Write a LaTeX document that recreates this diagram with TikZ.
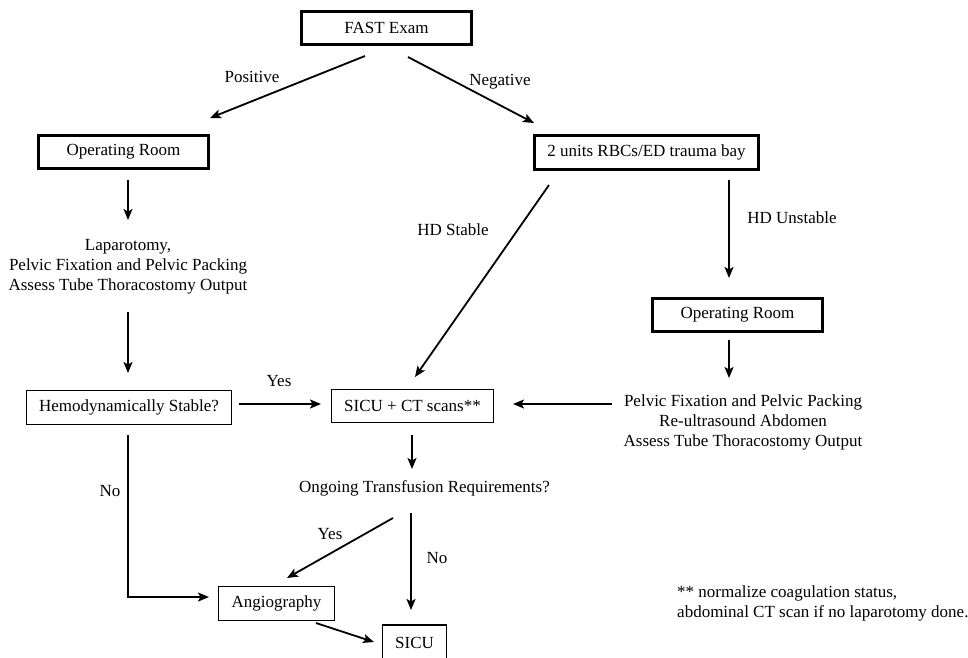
\documentclass[tikz,border=0pt]{standalone}
\usepackage{fontspec}
\setmainfont{Liberation Serif}
\usetikzlibrary{arrows.meta}
\begin{document}
\begin{tikzpicture}[x=1pt,y=-1pt,
  every node/.style={font=\fontsize{17}{20}\selectfont, inner sep=0pt},
  thickbox/.style={draw, line width=2.8pt},
  thinbox/.style={draw, line width=1.3pt},
  conn/.style={line width=1.8pt, -{Stealth[length=11pt,width=9pt,inset=2.5pt]}},
  lbl/.style={}]
\clip (0,0) rectangle (968,657);
\fill[white] (0,0) rectangle (968,657);
% boxes
\node[thickbox, minimum width=170pt, minimum height=33pt] (fast) at (386.5,28) {FAST Exam};
\node[thickbox, minimum width=170pt, minimum height=33pt] (orl) at (123.5,152) {Operating Room};
\node[thickbox, minimum width=224pt, minimum height=34pt] (rbc) at (646.5,152.5) {2 units RBCs/ED trauma bay};
\node[thickbox, minimum width=170pt, minimum height=33pt] (orr) at (737.5,315) {Operating Room};
\node[thinbox, minimum width=205pt, minimum height=34pt] (hemo) at (129,407.5) {Hemodynamically Stable?};
\node[thinbox, minimum width=162pt, minimum height=33pt] (sicuct) at (412.5,406) {SICU + CT scans**};
\node[thinbox, minimum width=116pt, minimum height=34pt] (angio) at (276.5,603.5) {Angiography};
\node[thinbox, minimum width=64pt, minimum height=36pt] (sicu) at (414.5,643) {SICU};
% plain texts
\node[align=center] (lap) at (128,267) {Laparotomy,\\Pelvic Fixation and Pelvic Packing\\Assess Tube Thoracostomy Output};
\node[align=center] (pelv) at (743,422) {Pelvic Fixation and Pelvic Packing\\Re-ultrasound Abdomen\\Assess Tube Thoracostomy Output};
\node (ongo) at (424.5,488) {Ongoing Transfusion Requirements?};
\node[align=left, anchor=west] (note) at (677,603) {** normalize coagulation status,\\abdominal CT scan if no laparotomy done.};
% labels
\node (lpos) at (252,77) {Positive};
\node (lneg) at (500,82) {Negative};
\node (lhds) at (453,230) {HD Stable};
\node (lhdu) at (792,218) {HD Unstable};
\node (lyes1) at (279,381) {Yes};
\node (lno1) at (110,491) {No};
\node (lyes2) at (330,534) {Yes};
\node (lno2) at (437,558) {No};
% connector end points
\coordinate (p1a) at (365,56);  \coordinate (p1b) at (210,118);
\coordinate (p2a) at (408,57);  \coordinate (p2b) at (534,123);
\coordinate (p3a) at (128,180); \coordinate (p3b) at (128,220);
\coordinate (p4a) at (128,312); \coordinate (p4b) at (128,373);
\coordinate (p5a) at (239,404); \coordinate (p5b) at (321,404);
\coordinate (p6a) at (549,185); \coordinate (p6b) at (415,377);
\coordinate (p7a) at (729,180); \coordinate (p7b) at (729,278);
\coordinate (p8a) at (729,340); \coordinate (p8b) at (729,378);
\coordinate (p9a) at (612,404); \coordinate (p9b) at (513,404);
\coordinate (p10a) at (412,435); \coordinate (p10b) at (412,469);
\coordinate (p11a) at (393,518); \coordinate (p11b) at (287,578);
\coordinate (p12a) at (411,513); \coordinate (p12b) at (411,610);
\coordinate (p13a) at (128,435); \coordinate (p13b) at (209,597);
\coordinate (p14a) at (316,623); \coordinate (p14b) at (374,642);
% connectors
\draw[conn] (p1a) -- (p1b);
\draw[conn] (p2a) -- (p2b);
\draw[conn] (p3a) -- (p3b);
\draw[conn] (p4a) -- (p4b);
\draw[conn] (p5a) -- (p5b);
\draw[conn] (p6a) -- (p6b);
\draw[conn] (p7a) -- (p7b);
\draw[conn] (p8a) -- (p8b);
\draw[conn] (p9a) -- (p9b);
\draw[conn] (p10a) -- (p10b);
\draw[conn] (p11a) -- (p11b);
\draw[conn] (p12a) -- (p12b);
\draw[conn] (p13a) |- (p13b);
\draw[conn] (p14a) -- (p14b);
\end{tikzpicture}
\end{document}
